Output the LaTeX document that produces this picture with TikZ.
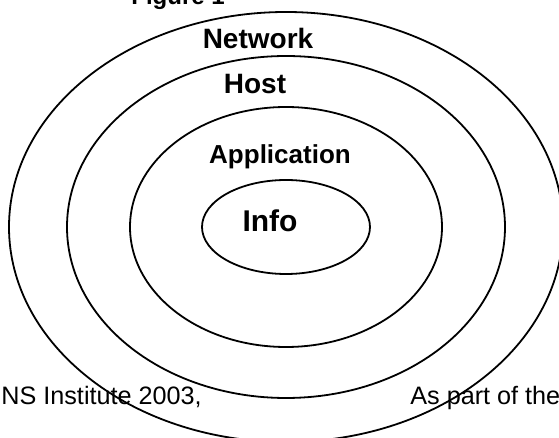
\documentclass[tikz,border=0pt]{standalone}
\usepackage{fontspec}
\setmainfont{Liberation Sans}
\usepackage{tikz}
\usetikzlibrary{shapes.geometric}

\begin{document}
\begin{tikzpicture}[
x=0.5pt, y=-0.5pt,
ring/.style={ellipse, draw=black, line width=0.9pt, inner sep=0pt, outer sep=0pt},
layer/.style={font=\bfseries\fontsize{14}{14}\selectfont, inner sep=0pt},
foot/.style={font=\fontsize{12.6}{12.6}\selectfont, inner sep=0pt, anchor=base west}
]
\useasboundingbox (0,0) rectangle (559,438);
\clip (0,0) rectangle (559,438);
%Rings
\node[ring, minimum width=277pt, minimum height=215pt] (network) at (286,227) {};
\node[ring, minimum width=219pt, minimum height=171pt] (host)    at (network.center) {};
\node[ring, minimum width=156pt, minimum height=120pt] (app)     at (network.center) {};
\node[ring, minimum width=84pt,  minimum height=47pt]  (info)    at (network.center) {};
%Labels
\node[layer]                                        (netlbl)  at (258,38)  {Network};
\node[layer]                                        (hostlbl) at (255,84)  {Host};
\node[layer, anchor=base, font=\bfseries\fontsize{13}{13}\selectfont] (applbl) at (280,164) {Application};
\node[layer, anchor=base, font=\bfseries\fontsize{15}{15}\selectfont] (infolbl) at (270,232) {Info};
%Text
\node[foot, font=\bfseries\fontsize{12}{12}\selectfont] (fig)  at (131,5)   {Figure 1};
\node[foot]                                         (sans)    at (1,405)   {NS Institute 2003,};
\node[foot]                                         (part)    at (410,405) {As part of the};
\end{tikzpicture}
\end{document}
